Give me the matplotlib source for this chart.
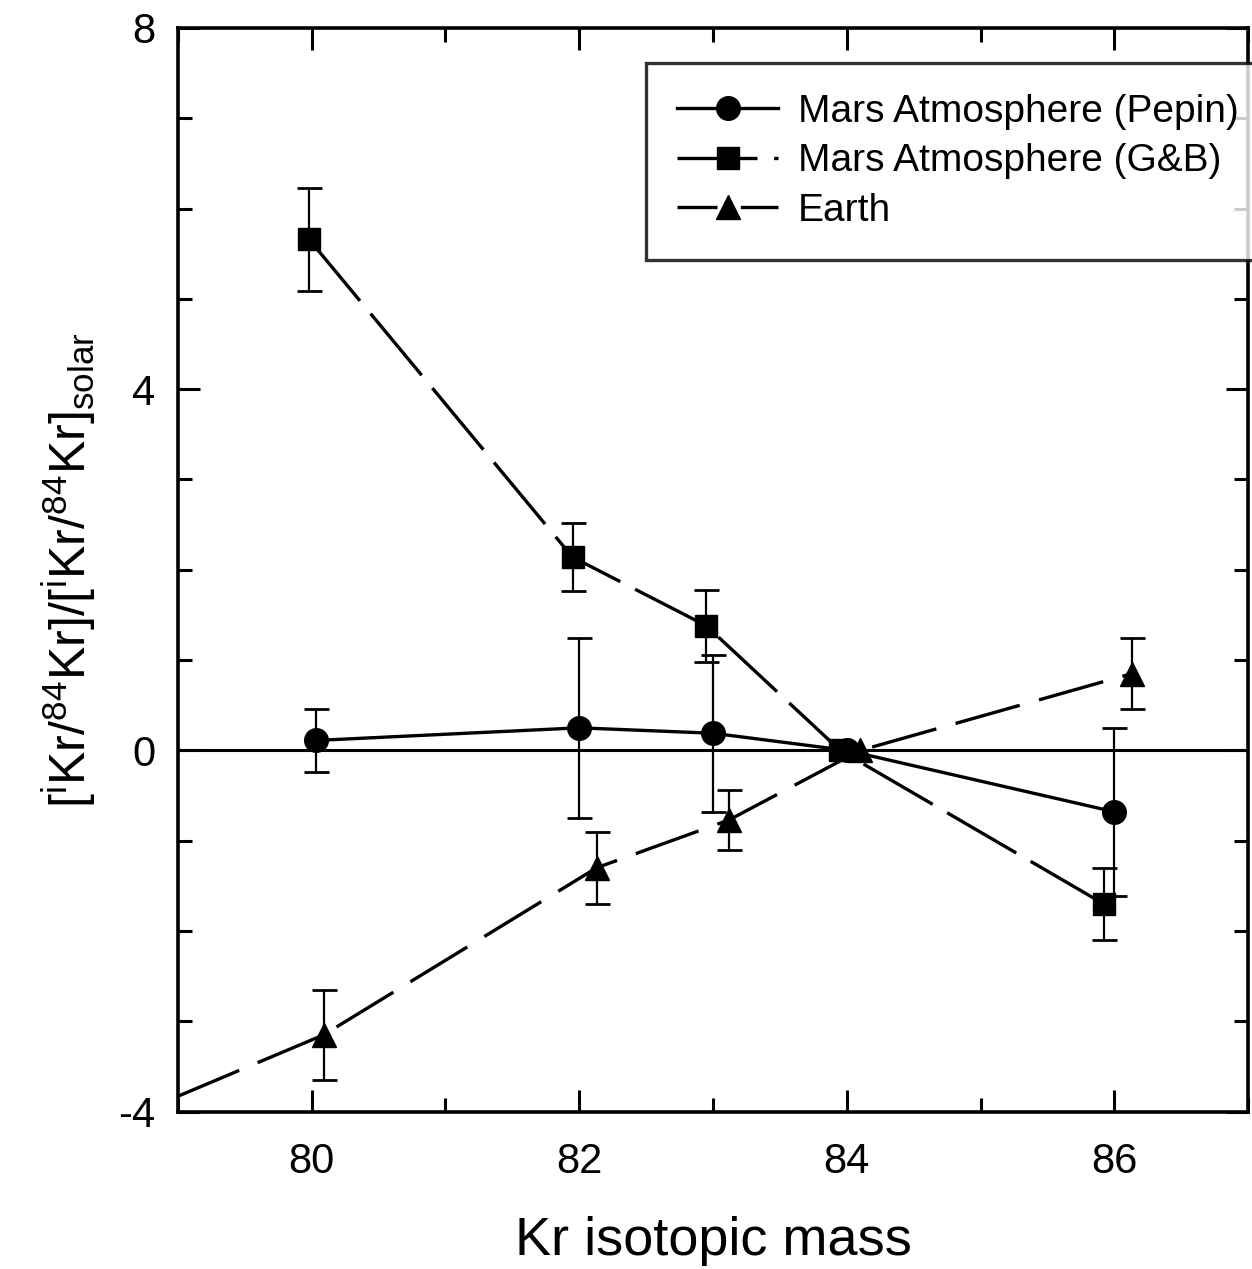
import matplotlib
matplotlib.use("Agg")
import matplotlib.pyplot as plt
from matplotlib.ticker import MultipleLocator

plt.rcParams['font.family'] = ['Liberation Sans', 'DejaVu Sans']
plt.rcParams['mathtext.fontset'] = 'custom'
plt.rcParams['mathtext.rm'] = 'Liberation Sans'
plt.rcParams['axes.unicode_minus'] = False

# Mars atmosphere (Pepin)
pepin_x = [80.03, 82.0, 83.0, 84.0, 86.0]
pepin_y = [0.11, 0.25, 0.19, 0.0, -0.68]
pepin_err = [0.35, 1.0, 0.87, 0.0, 0.93]

# Mars atmosphere (G&B)
gb_x = [79.98, 81.95, 82.95, 83.95, 85.92]
gb_y = [5.66, 2.14, 1.38, 0.0, -1.70]
gb_err = [0.57, 0.38, 0.40, 0.0, 0.40]

# Earth
earth_x = [80.09, 82.13, 83.12, 84.1, 86.13]
earth_y = [-3.15, -1.30, -0.77, 0.0, 0.85]
earth_err = [0.5, 0.4, 0.33, 0.0, 0.39]
# earth line runs in from the left frame
earth_line_x = [79.0] + earth_x
earth_line_y = [-3.83] + earth_y

fig = plt.figure(figsize=(12.52, 12.69), dpi=100)
ax = fig.add_axes([0.142, 0.124, 0.855, 0.854])

ax.axhline(0, color='black', lw=2.2, zorder=1)

ms = 17
lw = 2.4
ax.errorbar(pepin_x, pepin_y, yerr=pepin_err, fmt='none', ecolor='black',
            elinewidth=1.6, capsize=9, capthick=2)
ax.plot(pepin_x, pepin_y, '-', color='black', lw=lw, marker='o', ms=ms,
        label='Mars Atmosphere (Pepin)')

ax.errorbar(gb_x, gb_y, yerr=gb_err, fmt='none', ecolor='black',
            elinewidth=1.6, capsize=9, capthick=2)
ax.plot(gb_x, gb_y, color='black', lw=lw, dashes=(24, 5), marker='s', ms=ms - 1,
        label='Mars Atmosphere (G&B)')

ax.errorbar(earth_x, earth_y, yerr=earth_err, fmt='none', ecolor='black',
            elinewidth=1.6, capsize=9, capthick=2)
ax.plot(earth_line_x, earth_line_y, color='black', lw=lw, dashes=(20, 6))
ax.plot(earth_x, earth_y, ls='none', color='black', marker='^', ms=ms)
ax.plot([], [], color='black', lw=lw, dashes=(12, 3, 1, 3), marker='^', ms=ms,
        label='Earth')

ax.set_xlim(79, 87)
ax.set_ylim(-4, 8)
ax.xaxis.set_major_locator(MultipleLocator(2))
ax.xaxis.set_minor_locator(MultipleLocator(1))
ax.yaxis.set_major_locator(MultipleLocator(4))
ax.yaxis.set_minor_locator(MultipleLocator(1))
ax.tick_params(which='both', direction='in', top=True, right=True, width=2.2,
               labelsize=30)
ax.tick_params(axis='x', pad=22)
ax.tick_params(axis='y', pad=16)
ax.tick_params(which='major', length=16)
ax.tick_params(which='minor', length=10)
for s in ax.spines.values():
    s.set_linewidth(2.6)

ax.set_xlabel('Kr isotopic mass', fontsize=39, labelpad=24)
ax.set_ylabel(r'$[^{\mathrm{i}}\mathrm{Kr}/^{84}\mathrm{Kr}]/[^{\mathrm{i}}\mathrm{Kr}/^{84}\mathrm{Kr}]_{\mathrm{solar}}$',
              fontsize=36, labelpad=14)

leg = ax.legend(loc='upper right', bbox_to_anchor=(1.02, 0.968), fontsize=28,
                frameon=True, fancybox=False, edgecolor='black', handlelength=2.6,
                handletextpad=0.5, borderpad=0.8, labelspacing=0.35, borderaxespad=0)
leg.get_frame().set_linewidth(2.4)

fig.savefig('out.png', dpi=100)
